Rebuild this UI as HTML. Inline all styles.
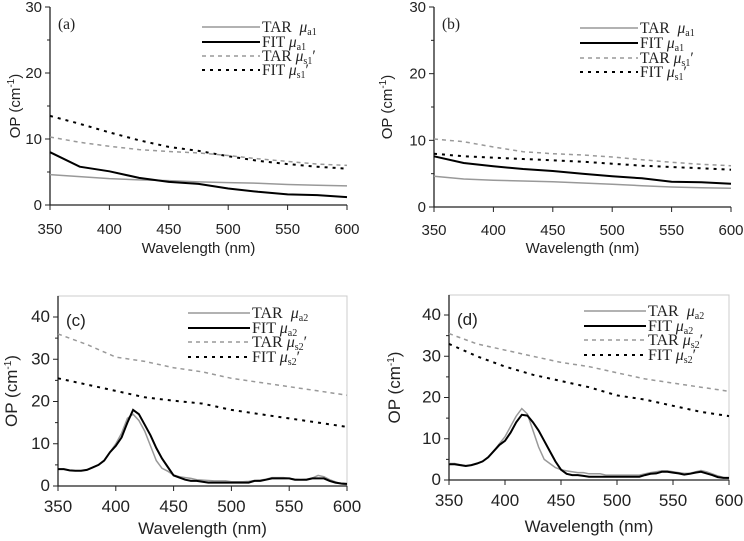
<!DOCTYPE html>
<html><head><meta charset="utf-8">
<style>
html,body{margin:0;padding:0;background:#fff;}
svg{display:block;}
.tk{font-family:"Liberation Sans",sans-serif;font-size:15px;fill:#222;}
.tk2{font-family:"Liberation Sans",sans-serif;font-size:17px;fill:#222;}
.lg{font-family:"Liberation Serif",serif;font-size:15.5px;fill:#222;}
.lg2{font-family:"Liberation Serif",serif;font-size:16px;fill:#222;}
</style></head>
<body>
<svg id="c" width="744" height="541" viewBox="0 0 744 541" xmlns="http://www.w3.org/2000/svg"></svg>
<script>
const xTicks = [350,400,450,500,550,600];
const x11 = [350,375,400,425,450,475,500,525,550,575,600];
const a_tarMua = [4.6,4.3,4.0,3.8,3.7,3.5,3.4,3.3,3.1,3.0,2.9];
const a_fitMua = [8.0,5.8,5.1,4.1,3.5,3.2,2.5,2.0,1.6,1.5,1.2];
const a_tarMus = [10.3,9.5,8.9,8.4,8.1,7.9,7.5,7.0,6.6,6.2,6.0];
const a_fitMus = [13.5,12.3,11.0,9.8,8.8,8.2,7.4,6.7,6.2,5.8,5.5];
const b_tarMua = [4.6,4.2,4.0,3.9,3.8,3.6,3.4,3.2,3.0,2.9,2.8];
const b_fitMua = [7.6,6.6,6.1,5.7,5.4,5.0,4.6,4.3,3.8,3.7,3.5];
const b_tarMus = [10.2,9.8,9.0,8.3,8.0,7.8,7.5,7.1,6.7,6.4,6.2];
const b_fitMus = [8.0,7.6,7.4,7.2,7.0,6.8,6.5,6.2,6.0,5.8,5.6];
const x51 = [350,355,360,365,370,375,380,385,390,395,400,405,410,415,420,425,430,435,440,445,450,455,460,465,470,475,480,485,490,495,500,505,510,515,520,525,530,535,540,545,550,555,560,565,570,575,580,585,590,595,600];
const c_fitMua = [4.0,4.0,3.7,3.6,3.6,3.8,4.4,5.0,6.0,8.0,9.5,11.5,15.0,18.0,17.0,14.5,12.0,9.0,6.5,4.5,2.5,2.0,1.5,1.2,1.2,1.0,0.8,0.8,0.8,0.8,0.8,0.8,0.8,0.8,1.2,1.2,1.5,1.8,1.8,1.8,1.8,1.5,1.5,1.5,1.8,1.8,1.8,1.2,0.8,0.6,0.5];
const c_tarMua = [4.0,4.0,3.7,3.6,3.6,3.8,4.4,5.0,6.0,8.0,10.0,12.5,16.0,17.0,15.5,13.0,9.5,6.0,4.2,3.5,2.6,2.2,2.0,1.8,1.5,1.4,1.3,1.2,1.2,1.2,1.0,1.0,1.0,1.1,1.3,1.4,1.6,2.0,2.0,2.0,1.8,1.6,1.5,1.6,1.9,2.5,2.2,1.5,1.0,0.5,0.3];
const c_tarMus = [36,33.5,30.5,29.5,28,27,25.5,24.5,23.5,22.5,21.5];
const c_fitMus = [25.5,24,22.5,21,20.2,19.5,18,17,16,15,14];
const d_fitMua = [3.8,3.8,3.6,3.4,3.6,4.0,4.5,5.5,7.0,8.5,9.5,11.5,14.0,15.8,15.6,14.0,12.0,9.5,7.0,4.5,2.5,1.5,1.2,1.2,1.0,0.8,0.8,0.8,0.8,0.8,0.8,0.8,0.8,0.8,0.8,1.2,1.5,1.6,2.0,2.0,1.8,1.6,1.3,1.5,1.8,2.0,1.6,1.2,0.7,0.5,0.5];
const d_tarMua = [4.0,4.0,3.7,3.5,3.6,4.0,4.5,5.6,7.0,8.8,10.5,13.0,15.5,17.3,16.0,12.0,8.0,5.0,4.0,3.0,2.5,2.2,2.0,1.8,1.8,1.5,1.5,1.5,1.2,1.2,1.2,1.2,1.2,1.2,1.2,1.5,1.8,2.0,2.2,2.2,2.0,1.8,1.6,1.6,2.0,2.3,2.0,1.5,1.0,0.6,0.4];
const d_tarMus = [35.5,33,31.5,30,28.5,27.5,26,24.5,23.5,22.5,21.5];
const d_fitMus = [33,30,27.5,25.5,24,22.5,20.5,19.5,18,16.5,15.5];

const NS="http://www.w3.org/2000/svg";
const svg=document.getElementById('c');
function mk(tag,attrs,parent){const e=document.createElementNS(NS,tag);for(const k in attrs)e.setAttribute(k,attrs[k]);(parent||svg).appendChild(e);return e;}

function panel(p){
  const g=mk('g',{});
  
  
  const tk=p.frame?'tk2':'tk', lg=p.frame?'lg2':'lg';
  const sx=v=>p.x0+(v-350)/(600-350)*(p.x1-p.x0);
  const sy=v=>p.y0-(v/p.ymax)*(p.y0-p.yTop);
  if(p.frame){
    const fr=mk('rect',{x:p.x0,y:p.frameTop,width:p.x1-p.x0,height:p.y0-p.frameTop,fill:'none',stroke:'#ccc','stroke-width':1},g);
    
    
  }
  const ax=mk('path',{d:`M${p.x0},${p.axTop} V${p.y0} H${p.x1}`,fill:'none',stroke:'#222','stroke-width':1.3},g);
  
  
  for(let v=0;v<=p.ymax;v+=p.ystep/2){
    const major=(v%p.ystep)===0;
    mk('line',{x1:p.x0-(major?5:3),x2:p.x0,y1:sy(v),y2:sy(v),stroke:'#222'},g);
    if(major){const t=mk('text',{x:p.x0-8,y:sy(v)+5,'text-anchor':'end',class:tk},g);t.textContent=v;
      
      }
  }
  xTicks.forEach(v=>{
    mk('line',{x1:sx(v),x2:sx(v),y1:p.y0,y2:p.y0+5,stroke:'#222'},g);
    const t=mk('text',{x:sx(v),y:p.xlabY,'text-anchor':'middle',class:tk},g);t.textContent=v;
    
    
  });
  const xt=mk('text',{x:(p.x0+p.x1)/2,y:p.xtitleY,'text-anchor':'middle',class:tk},g);
  xt.textContent='Wavelength (nm)';
  
  
  const yt=mk('text',{x:0,y:0,'text-anchor':'middle',class:tk,transform:`translate(${p.ytitleX},${(p.y0+p.axTop)/2}) rotate(-90)`},g);
  yt.innerHTML='OP (cm<tspan dy="-6" font-size="10">-1</tspan><tspan dy="6">)</tspan>';
  
  
  const lab=mk('text',{x:p.x0+8,y:p.axTop+(p.frame?30:22),class:p.frame?'tk2':'lg','font-size':p.frame?17:13},g);
  lab.textContent='('+p.id+')';
  
  
  p.series.forEach((s,i)=>{
    const d=s.xs.map((x,j)=>(j?'L':'M')+sx(x).toFixed(1)+','+sy(s.ys[j]).toFixed(1)).join(' ');
    const pl=mk('path',{d,fill:'none',stroke:s.color,'stroke-width':s.w,'stroke-dasharray':s.dash||'none'},g);
    
    
    const ly=p.legY[i];
    const ll=mk('line',{x1:p.legX,x2:p.legX+p.legW,y1:ly,y2:ly,stroke:s.color,'stroke-width':s.w,'stroke-dasharray':s.dash||'none'},g);
    
    
    const lt=mk('text',{x:p.legX+p.legW+2,y:ly+5,class:lg},g);
    lt.innerHTML=s.label;
    
    
  });
}
const mu=(sub,prime)=>`<tspan font-style="italic">μ</tspan><tspan font-size="10" dy="3">${sub}</tspan><tspan dy="-3">${prime?'′':''}</tspan>`;
function ser(xsA,a1,a2,xsS,s1,s2,n){
  return [
   {name:'tar-mua-line',xs:xsA,ys:a1,color:'#999',w:1.5,label:'TAR&#160; '+mu('a'+n)},
   {name:'fit-mua-line',xs:xsA,ys:a2,color:'#000',w:2,label:'FIT '+mu('a'+n)},
   {name:'tar-mus-line',xs:xsS,ys:s1,color:'#999',w:1.5,dash:'4,4',label:'TAR '+mu('s'+n,1)},
   {name:'fit-mus-line',xs:xsS,ys:s2,color:'#000',w:2,dash:'3,5',label:'FIT '+mu('s'+n,1)}];
}
panel({id:'a',x0:50,x1:347,y0:205,yTop:7,axTop:7,ymax:30,ystep:10,xlabY:234,xtitleY:253,ytitleX:20,
  legX:202,legW:58,legY:[27,42,56,70],series:ser(x11,a_tarMua,a_fitMua,x11,a_tarMus,a_fitMus,'1')});
panel({id:'b',x0:434,x1:731,y0:207,yTop:7,axTop:7,ymax:30,ystep:10,xlabY:235,xtitleY:253,ytitleX:392,
  legX:580,legW:58,legY:[28,43,58,72],series:ser(x11,b_tarMua,b_fitMua,x11,b_tarMus,b_fitMus,'1')});
panel({id:'c',x0:58,x1:347,y0:486,yTop:317,axTop:296,frame:true,frameTop:296,ymax:40,ystep:10,xlabY:512,xtitleY:534,ytitleX:17,
  legX:188,legW:62,legY:[313,328,342,357],series:ser(x51,c_tarMua,c_fitMua,x11,c_tarMus,c_fitMus,'2')});
panel({id:'d',x0:449,x1:729,y0:480,yTop:315,axTop:295,frame:true,frameTop:295,ymax:40,ystep:10,xlabY:506,xtitleY:532,ytitleX:400,
  legX:584,legW:62,legY:[311,326,340,355],series:ser(x51,d_tarMua,d_fitMua,x11,d_tarMus,d_fitMus,'2')});
</script>
</body></html>
